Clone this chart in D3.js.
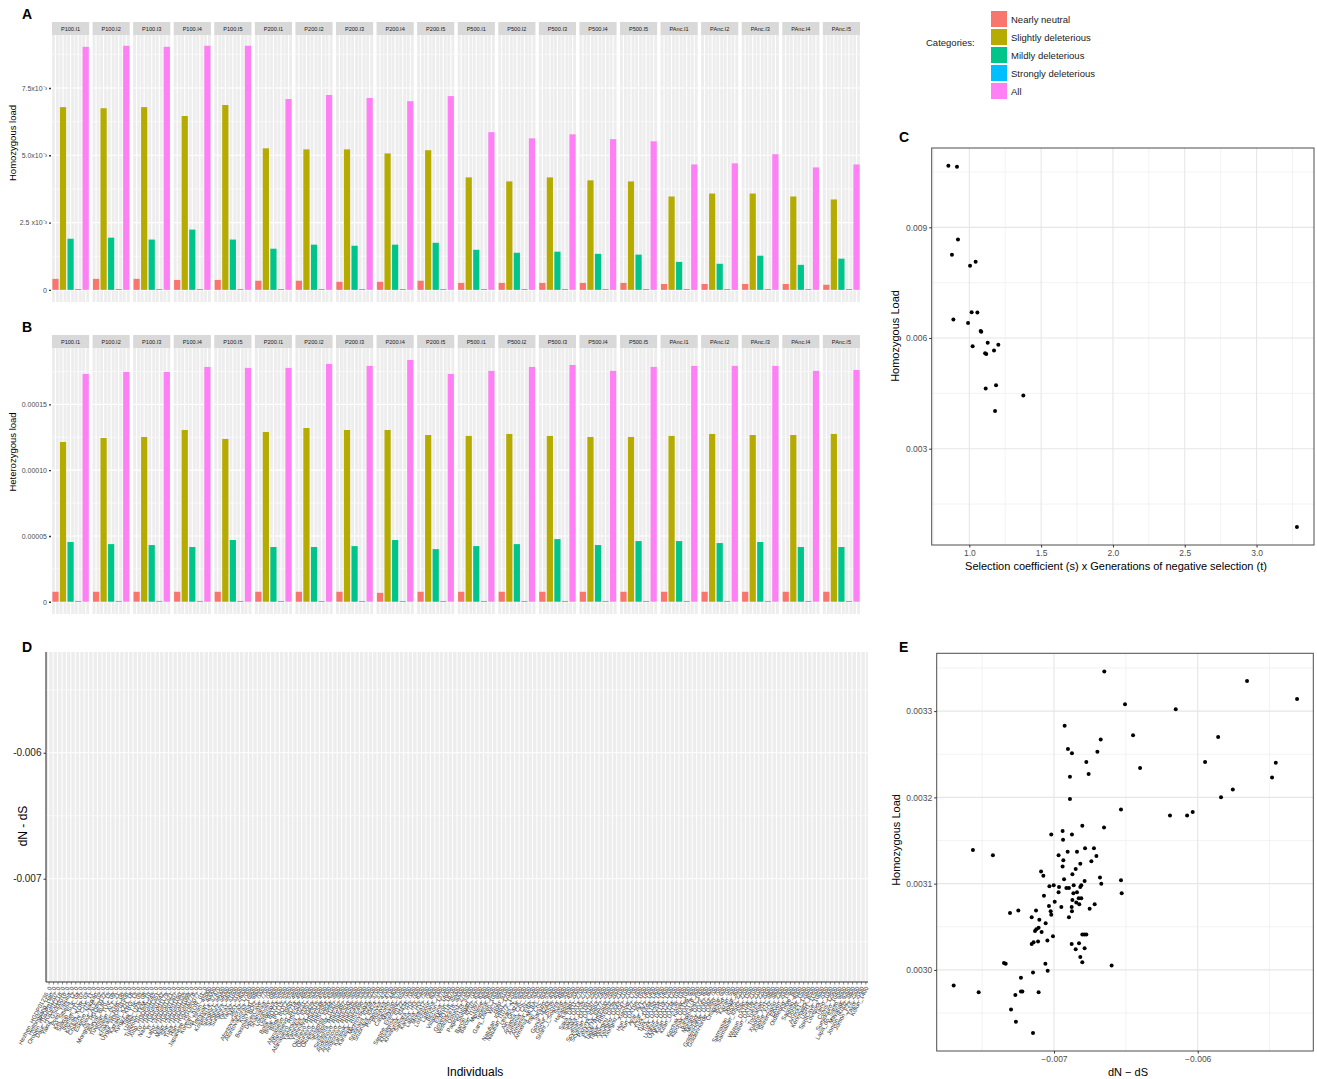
<!DOCTYPE html>
<html>
<head>
<meta charset="utf-8">
<script src="https://cdn.jsdelivr.net/npm/d3@7"></script>
<style>
  body { margin: 0; background: #fff; }
  text { font-family: "Liberation Sans", Arial, Helvetica, sans-serif; }
</style>
</head>
<body>
<div id="chart"></div>
<script>
// ---- data ----
const facets = ["P100.I1","P100.I2","P100.I3","P100.I4","P100.I5",
  "P200.I1","P200.I2","P200.I3","P200.I4","P200.I5",
  "P500.I1","P500.I2","P500.I3","P500.I4","P500.I5",
  "PAnc.I1","PAnc.I2","PAnc.I3","PAnc.I4","PAnc.I5"];
const categories = ["Nearly neutral","Slightly deleterious","Mildly deleterious","Strongly deleterious","All"];
const catColors = ["#F8766D","#B6AB00","#00C58A","#00BFFF","#FF7FF5"];

// panel A, homozygous load
const homNearlyNeutral = [0.00041,0.00041,0.00041,0.00037,0.00037,0.00034,0.00034,0.00030,0.00030,0.00034,
  0.00026,0.00026,0.00026,0.00026,0.00026,0.00022,0.00022,0.00022,0.00022,0.00019];
const homSlightly = [0.00679,0.00675,0.00679,0.00646,0.00687,0.00526,0.00522,0.00522,0.00507,0.00519,
  0.00418,0.00403,0.00418,0.00407,0.00403,0.00347,0.00358,0.00358,0.00347,0.00336];
const homMildly = [0.00190,0.00194,0.00187,0.00224,0.00187,0.00153,0.00168,0.00164,0.00168,0.00175,
  0.00149,0.00138,0.00142,0.00134,0.00131,0.00104,0.00097,0.00127,0.00093,0.00116];
const homStrongly = [0.00003,0.00003,0.00003,0.00003,0.00003,0.00003,0.00003,0.00003,0.00003,0.00003,
  0.00003,0.00003,0.00003,0.00003,0.00003,0.00003,0.00003,0.00003,0.00003,0.00003];
const homAll = [0.00903,0.00907,0.00903,0.00907,0.00907,0.00709,0.00724,0.00713,0.00701,0.00720,
  0.00586,0.00563,0.00578,0.00560,0.00552,0.00466,0.00470,0.00504,0.00455,0.00466];
const homTicks = [0, 0.0025, 0.005, 0.0075];
const homTickLabels = ["0", "2.5 x10\u207B\u00B3", "5.0x10\u207B\u00B3", "7.5x10\u207B\u00B3"];

// panel B, heterozygous load
const hetNearlyNeutral = [0.0000076,0.0000076,0.0000076,0.0000076,0.0000076,0.0000076,0.0000076,0.0000076,0.0000068,0.0000076,
  0.0000076,0.0000076,0.0000076,0.0000076,0.0000076,0.0000076,0.0000076,0.0000076,0.0000076,0.0000076];
const hetSlightly = [0.0001214,0.0001244,0.0001252,0.0001305,0.0001237,0.0001290,0.0001320,0.0001305,0.0001305,0.0001267,
  0.0001260,0.0001275,0.0001260,0.0001252,0.0001252,0.0001260,0.0001275,0.0001267,0.0001267,0.0001275];
const hetMildly = [0.0000454,0.0000438,0.0000431,0.0000416,0.0000469,0.0000416,0.0000416,0.0000423,0.0000469,0.0000400,
  0.0000423,0.0000438,0.0000476,0.0000431,0.0000461,0.0000461,0.0000446,0.0000454,0.0000416,0.0000416];
const hetStrongly = [0.0000006,0.0000006,0.0000006,0.0000006,0.0000006,0.0000006,0.0000006,0.0000006,0.0000006,0.0000006,
  0.0000006,0.0000006,0.0000006,0.0000006,0.0000006,0.0000006,0.0000006,0.0000006,0.0000006,0.0000006];
const hetAll = [0.0001731,0.0001746,0.0001746,0.0001784,0.0001777,0.0001777,0.0001807,0.0001792,0.0001837,0.0001731,
  0.0001754,0.0001784,0.0001799,0.0001754,0.0001784,0.0001792,0.0001792,0.0001792,0.0001754,0.0001761];
const hetTicks = [0, 0.00005, 0.0001, 0.00015];
const hetTickLabels = ["0", "0.00005", "0.00010", "0.00015"];

// panel C, s*t vs homozygous load
const selPoints = [[0.854,0.01067],[0.914,0.01064],[0.921,0.00867],[0.879,0.00826],[1.005,0.00796],
  [1.044,0.00807],[0.889,0.00650],[1.016,0.00670],[1.056,0.00669],[0.991,0.00641],[1.079,0.00619],
  [1.083,0.00617],[1.023,0.00578],[1.128,0.00587],[1.202,0.00582],[1.110,0.00559],[1.118,0.00557],
  [1.172,0.00566],[1.114,0.00463],[1.186,0.00472],[1.376,0.00444],[1.179,0.00402],[3.281,0.00088]];
const selXTicks = [1.0, 1.5, 2.0, 2.5, 3.0];
const selYTicks = [0.003, 0.006, 0.009];

// panel D, individuals (x axis labels)
const individuals = ["Hezhen_HGDP01236_0","Heilongjiang_Han_0","Oroqen_HGDP01207_0","Daur_HGDP01216_0",
  "Yakut_GS000016_0","Even_Yakutia_0","Ket_Siberia_12_0","Selkup_SLK_04_0","Itelmen_ITL_07_0","Koryak_KOR_03_0",
  "Chukchi_CHK_11_0","Eskimo_Naukan_0","Aleut_ALE_02_0","Mongola_HGDP0122_0","Buryat_BUR_15_0","Tuvinian_TUV_09_0",
  "Altaian_ALT_21_0","Khakass_KHK_06_0","Uygur_HGDP01306_0","Kazakh_KZH_18_0","Kyrgyz_KRG_13_0","Tajik_TJK_05_0",
  "Uzbek_UZB_08_0","Turkmen_TKM_10_0","Xibo_HGDP01245_0","Tu_HGDP01351_0","Naxi_HGDP01342_0","Yi_HGDP01179_0",
  "Lahu_HGDP01321_0","Dai_HGDP01307_0","Miao_HGDP01190_0","She_HGDP01335_0","Tujia_HGDP01099_0","Han_HGDP00778_0",
  "Japanese_HGDP0077_0","Korean_KOR_01_0",
  "Ust_Ishim_45000","Tianyuan_40000","Kostenki14_37470","Sunghir1_34000","Sunghir2_34000","Sunghir3_34000",
  "Yana1_31600","Yana2_31600","MA1_24000","AfontovaGora2_17000","AfontovaGora3_16900","Kolyma1_9800",
  "Boisman_BOI2_7000","DevilsCave_7700","Shamanka_7000","Lokomotiv_6800","UstBelaya_5500","Botai_BOT14_5500",
  "Botai_BOT15_5500","Botai_BOT2_5500","Afanasievo_I3950_4900","Afanasievo_I6714_4900","Afanasievo_RISE509_4900",
  "Yamnaya_I0231_5000","Yamnaya_I0357_5000","Yamnaya_I0429_5000","Okunevo_RISE515_4500","Okunevo_RISE548_4500",
  "Okunevo_RISE664_4500","Sintashta_I0944_3900","Sintashta_I1007_3900","Sintashta_RISE392_3900",
  "Andronovo_RISE497_3600","Andronovo_RISE500_3600","Andronovo_RISE505_3600","Karasuk_RISE495_3300",
  "Karasuk_RISE496_3300","Mezhovskaya_3200","Srubnaya_I0234_3700","Srubnaya_I0424_3700","Potapovka_4200",
  "Poltavka_4700","Catacomb_4400","Maykop_5700","Steppe_Eneolithic_6500","Khvalynsk_I0122_7000",
  "Khvalynsk_I0434_7000","Samara_HG_7600","Karelia_HG_8300","Latvia_HG_7500","Motala12_7900","Loschbour_8000",
  "LaBrana_7000","Bichon_13700","Villabruna_14000","ElMiron_18700","GoyetQ116_35000","Vestonice16_30000",
  "Ostuni1_27000","Paglicci133_33000","Stuttgart_7000","Barcin_I0707_8300","Barcin_I1097_8300","Mentese_8000",
  "Tepecik_8500","Ganj_Dareh_10000","WC1_9900","Hotu_9100","Natufian_I0861_12000","Natufian_I1072_12000",
  "Levant_N_9500","Ain_Ghazal_9000","Anatolia_ChL_6000","Armenia_ChL_6200","Armenia_EBA_5000","Armenia_MLBA_3200",
  "Iran_ChL_6000","Sarazm_5300","Gonur_I4243_4000","Gonur_I5535_4000","Shahr_i_Sokhta_4800","Swat_3000",
  "Harappa_4500","Kangju_2000","Saka_DA11_2700","Saka_DA14_2700","Saka_DA35_2700","Scythian_DA191_2500",
  "Scythian_DA197_2500","Pazyryk_I0563_2400","Pazyryk_I0577_2400","Tagar_RISE600_2600","Tagar_RISE602_2600",
  "Xiongnu_DA39_2100","Xiongnu_DA43_2100","Xiongnu_DA47_2100","Xianbei_1700","Hun_DA127_1600","Hun_DA195_1600",
  "Avar_AV1_1400","Avar_AV2_1400","Turk_DA94_1400","Turk_DA150_1400","Turk_DA204_1400","Uyghur_DA119_1200",
  "Uyghur_DA121_1200","Kitan_DA134_1000","Kitan_DA136_1000","Kimak_1000","Kipchak_DA159_900","Kipchak_DA178_900",
  "Karakhanid_1000","Mongol_DA72_800","Mongol_DA87_800","GoldenHorde_DA82_700","GoldenHorde_DA90_700",
  "Chagatai_600","Jochid_700","Kazan_500","Nogai_400","Sarmatian_I0575_2200","Sarmatian_I0582_2200","Alan_1500",
  "Wusun_DA104_2100","Wusun_DA109_2100","Yuezhi_2200","Tocharian_2000","Xiaohe_XH1_3800","Xiaohe_XH2_3800",
  "Shirenzigou_2300","Ekven_2000","OldBering_1500","Thule_800","Saqqaq_4000","Dorset_1500","Anzick1_12600",
  "Kennewick_8500","USR1_11500","SpiritCave_10600","Lovelock_2000","Taino_1000","Clovis_12900","Sumidouro_10400",
  "Lapa_do_Santo_9600","Mayahak_9300","Jomon_IK002_3800","Jomon_F23_2500","Yayoi_2000","Kofun_1400"];
const dndsTicks = [-0.007, -0.006];
const dndsTickLabels = ["-0.007", "-0.006"];

// panel E, dN - dS vs homozygous load
const dndsPoints = [[-0.00665,0.003346],[-0.005657,0.003335],[-0.005309,0.003314],[-0.006506,0.003308],
  [-0.006153,0.003302],[-0.006926,0.003283],[-0.00645,0.003272],[-0.005858,0.00327],[-0.006675,0.003267],
  [-0.006903,0.003256],[-0.006698,0.003253],[-0.006875,0.003251],[-0.006775,0.003241],[-0.005949,0.003241],
  [-0.005457,0.00324],[-0.006401,0.003234],[-0.006759,0.003227],[-0.006889,0.003224],[-0.005483,0.003223],
  [-0.005756,0.003209],[-0.006889,0.003198],[-0.005838,0.0032],[-0.006534,0.003186],[-0.006193,0.003179],
  [-0.006074,0.003179],[-0.006035,0.003183],[-0.006803,0.003167],[-0.006652,0.003165],[-0.007019,0.003157],
  [-0.00694,0.003161],[-0.006875,0.003157],[-0.006937,0.003151],[-0.007564,0.003139],[-0.006784,0.003141],
  [-0.006722,0.003141],[-0.006905,0.003137],[-0.00684,0.003137],[-0.007425,0.003133],[-0.006968,0.003133],
  [-0.006705,0.003132],[-0.006935,0.003127],[-0.00674,0.003126],[-0.006817,0.003123],[-0.00694,0.00312],
  [-0.006849,0.003117],[-0.00709,0.003114],[-0.006872,0.003111],[-0.007074,0.003109],[-0.00693,0.003105],
  [-0.00668,0.003107],[-0.006787,0.003103],[-0.006534,0.003104],[-0.006671,0.0031],[-0.007032,0.003097],
  [-0.007002,0.003098],[-0.006863,0.003098],[-0.00681,0.003098],[-0.006965,0.003096],[-0.006914,0.003095],
  [-0.006896,0.003095],[-0.006817,0.003096],[-0.00684,0.00309],[-0.006968,0.00309],[-0.006865,0.003089],
  [-0.006529,0.003089],[-0.00707,0.003086],[-0.006872,0.003081],[-0.006828,0.003083],[-0.00681,0.003083],
  [-0.006995,0.003079],[-0.006845,0.003078],[-0.006824,0.003076],[-0.006717,0.003076],[-0.007035,0.003074],
  [-0.006949,0.003073],[-0.006877,0.003073],[-0.006752,0.003071],[-0.007306,0.003066],[-0.007248,0.003069],
  [-0.007125,0.003069],[-0.007023,0.003068],[-0.006875,0.003068],[-0.007155,0.003061],[-0.007019,0.003064],
  [-0.006896,0.003061],[-0.007102,0.003058],[-0.007058,0.003054],[-0.007107,0.003049],[-0.007123,0.003047],
  [-0.007132,0.003045],[-0.007086,0.003044],[-0.006803,0.003041],[-0.006789,0.003041],[-0.006775,0.003041],
  [-0.007007,0.003039],[-0.007046,0.003034],[-0.007111,0.003033],[-0.007142,0.003032],[-0.007155,0.00303],
  [-0.006877,0.00303],[-0.006826,0.003031],[-0.006849,0.003024],[-0.006787,0.003025],[-0.006817,0.003015],
  [-0.006803,0.003009],[-0.007348,0.003008],[-0.007336,0.003007],[-0.00706,0.003007],[-0.006599,0.003005],
  [-0.007044,0.002999],[-0.007146,0.002997],[-0.00723,0.002991],[-0.007698,0.002982],[-0.007524,0.002974],
  [-0.00723,0.002975],[-0.00722,0.002975],[-0.007107,0.002974],[-0.007269,0.002971],[-0.007299,0.002954],
  [-0.007265,0.00294],[-0.007146,0.002927]];
const loadXTicks = [-0.007, -0.006];
const loadYTicks = [0.0030, 0.0031, 0.0032, 0.0033];

// ---- drawing ----
const width = 1317, height = 1079;
const svg = d3.select("#chart").append("svg")
  .attr("width", width).attr("height", height)
  .style("background", "#fff");

const BG = "#EDEDED";

function panelLabel(t, x, y) {
  svg.append("text").attr("x", x).attr("y", y)
    .attr("font-size", 14).attr("font-weight", "bold").attr("fill", "#000").text(t);
}

// faceted bar panel (A and B)
function barPanel(cfg) {
  const series = cfg.series;
  const rows = [];
  facets.forEach(function(f, i) {
    categories.forEach(function(c, j) {
      rows.push({ facet: f, cat: c, value: series[j][i], color: catColors[j] });
    });
  });

  const fx = d3.scaleBand().domain(facets).range([52, 860]).paddingInner(0.084);
  const cx = d3.scaleBand().domain(categories).range([0, fx.bandwidth()])
    .paddingInner(0.18).paddingOuter(0.05);
  const y = d3.scaleLinear().domain(cfg.yDomain).range([cfg.bottom, cfg.top]);

  const minor = [];
  for (let k = 0; k < cfg.ticks.length; k++) {
    const step = cfg.ticks[1] - cfg.ticks[0];
    const m = cfg.ticks[k] + step / 2;
    if (m < cfg.yDomain[1]) minor.push(m);
  }

  const g = svg.append("g");
  const fg = g.selectAll(".facet").data(facets).enter().append("g")
    .attr("transform", function(d) { return "translate(" + fx(d) + ",0)"; });

  fg.append("rect").attr("x", 0).attr("y", cfg.stripTop)
    .attr("width", fx.bandwidth()).attr("height", cfg.top - cfg.stripTop)
    .attr("fill", "#D9D9D9");
  fg.append("text").attr("x", fx.bandwidth() / 2).attr("y", (cfg.stripTop + cfg.top) / 2 + 2)
    .attr("text-anchor", "middle").attr("font-size", 5.6).attr("fill", "#1A1A1A")
    .text(function(d) { return d; });

  fg.append("rect").attr("x", 0).attr("y", cfg.top)
    .attr("width", fx.bandwidth()).attr("height", cfg.bottom - cfg.top)
    .attr("fill", BG);

  // grid
  fg.selectAll(".hmin").data(minor).enter().append("line")
    .attr("x1", 0).attr("x2", fx.bandwidth())
    .attr("y1", function(d) { return y(d); }).attr("y2", function(d) { return y(d); })
    .attr("stroke", "#fff").attr("stroke-width", 0.6);
  fg.selectAll(".hmaj").data(cfg.ticks).enter().append("line")
    .attr("x1", 0).attr("x2", fx.bandwidth())
    .attr("y1", function(d) { return y(d); }).attr("y2", function(d) { return y(d); })
    .attr("stroke", "#fff").attr("stroke-width", 1.1);
  const centers = categories.map(function(c) { return cx(c) + cx.bandwidth() / 2; });
  const mids = centers.slice(1).map(function(c, i) { return (c + centers[i]) / 2; });
  fg.selectAll(".vmin").data(mids).enter().append("line")
    .attr("x1", function(d) { return d; }).attr("x2", function(d) { return d; })
    .attr("y1", cfg.top).attr("y2", cfg.bottom)
    .attr("stroke", "#fff").attr("stroke-width", 0.6);
  fg.selectAll(".vmaj").data(centers).enter().append("line")
    .attr("x1", function(d) { return d; }).attr("x2", function(d) { return d; })
    .attr("y1", cfg.top).attr("y2", cfg.bottom)
    .attr("stroke", "#fff").attr("stroke-width", 1.1);

  // bars
  g.selectAll(".bar").data(rows).enter().append("rect")
    .attr("x", function(d) { return fx(d.facet) + cx(d.cat); })
    .attr("width", cx.bandwidth())
    .attr("y", function(d) { return y(d.value); })
    .attr("height", function(d) { return y(0) - y(d.value); })
    .attr("fill", function(d) { return d.color; });

  // y axis
  const ax = g.append("g").attr("transform", "translate(51,0)")
    .call(d3.axisLeft(y).tickValues(cfg.ticks).tickSize(2)
      .tickPadding(2).tickFormat(function(d, i) { return cfg.tickLabels[i]; }));
  ax.select(".domain").remove();
  ax.selectAll("line").attr("stroke", "#333").attr("stroke-width", 1.4);
  ax.selectAll("text").attr("font-size", 7).attr("fill", "#4D4D4D")
    .style("font-family", '"Liberation Sans", Arial, sans-serif');

  svg.append("text")
    .attr("transform", "translate(16," + cfg.titleY + ") rotate(-90)")
    .attr("text-anchor", "middle").attr("font-size", 9.5).attr("fill", "#000")
    .text(cfg.title);
}

barPanel({
  series: [homNearlyNeutral, homSlightly, homMildly, homStrongly, homAll],
  stripTop: 22, top: 35, bottom: 302,
  yDomain: [-0.00045, 0.00947],
  ticks: homTicks, tickLabels: homTickLabels,
  title: "Homozygous load", titleY: 143
});
barPanel({
  series: [hetNearlyNeutral, hetSlightly, hetMildly, hetStrongly, hetAll],
  stripTop: 335, top: 348, bottom: 614,
  yDomain: [-0.0000093, 0.0001928],
  ticks: hetTicks, tickLabels: hetTickLabels,
  title: "Heterozygous load", titleY: 452
});
panelLabel("A", 22, 19);
panelLabel("B", 22, 332);

// legend
const legend = svg.append("g");
legend.append("text").attr("x", 926).attr("y", 46).attr("font-size", 9.5).attr("fill", "#1A1A1A")
  .text("Categories:");
legend.selectAll(".key").data(categories).enter().append("rect")
  .attr("x", 991).attr("y", function(d, i) { return 11 + 18 * i; })
  .attr("width", 16).attr("height", 16)
  .attr("fill", function(d, i) { return catColors[i]; });
legend.selectAll(".lab").data(categories).enter().append("text")
  .attr("x", 1011).attr("y", function(d, i) { return 22.5 + 18 * i; })
  .attr("font-size", 9.5).attr("fill", "#1A1A1A")
  .text(function(d) { return d; });

// scatter panel (C and E)
function scatter(cfg) {
  const x = d3.scaleLinear().domain(cfg.xDomain).range([cfg.left, cfg.right]);
  const y = d3.scaleLinear().domain(cfg.yDomain).range([cfg.bottom, cfg.top]);
  const g = svg.append("g");

  g.selectAll(".xmin").data(cfg.xMinor).enter().append("line")
    .attr("x1", function(d) { return x(d); }).attr("x2", function(d) { return x(d); })
    .attr("y1", cfg.top).attr("y2", cfg.bottom).attr("stroke", "#EBEBEB").attr("stroke-width", 0.6);
  g.selectAll(".ymin").data(cfg.yMinor).enter().append("line")
    .attr("y1", function(d) { return y(d); }).attr("y2", function(d) { return y(d); })
    .attr("x1", cfg.left).attr("x2", cfg.right).attr("stroke", "#EBEBEB").attr("stroke-width", 0.6);
  g.selectAll(".xmaj").data(cfg.xTicks).enter().append("line")
    .attr("x1", function(d) { return x(d); }).attr("x2", function(d) { return x(d); })
    .attr("y1", cfg.top).attr("y2", cfg.bottom).attr("stroke", "#E6E6E6").attr("stroke-width", 1.1);
  g.selectAll(".ymaj").data(cfg.yTicks).enter().append("line")
    .attr("y1", function(d) { return y(d); }).attr("y2", function(d) { return y(d); })
    .attr("x1", cfg.left).attr("x2", cfg.right).attr("stroke", "#E6E6E6").attr("stroke-width", 1.1);

  g.selectAll(".pt").data(cfg.points).enter().append("circle")
    .attr("cx", function(d) { return x(d[0]); })
    .attr("cy", function(d) { return y(d[1]); })
    .attr("r", 2).attr("fill", "#000");

  g.append("rect").attr("x", cfg.left).attr("y", cfg.top)
    .attr("width", cfg.right - cfg.left).attr("height", cfg.bottom - cfg.top)
    .attr("fill", "none").attr("stroke", "#4D4D4D").attr("stroke-width", 1);

  const xa = g.append("g").attr("transform", "translate(0," + cfg.bottom + ")")
    .call(d3.axisBottom(x).tickValues(cfg.xTicks).tickSize(2.5).tickPadding(2).tickFormat(cfg.xFmt));
  const ya = g.append("g").attr("transform", "translate(" + cfg.left + ",0)")
    .call(d3.axisLeft(y).tickValues(cfg.yTicks).tickSize(2.5).tickPadding(2).tickFormat(cfg.yFmt));
  [xa, ya].forEach(function(a) {
    a.select(".domain").remove();
    a.selectAll("line").attr("stroke", "#333");
    a.selectAll("text").attr("font-size", 8.5).attr("fill", "#4D4D4D")
      .style("font-family", '"Liberation Sans", Arial, sans-serif');
  });

  svg.append("text").attr("x", cfg.xTitleX).attr("y", cfg.xTitleY)
    .attr("text-anchor", "middle").attr("font-size", 11).attr("fill", "#000").text(cfg.xTitle);
  svg.append("text")
    .attr("transform", "translate(" + cfg.yTitleX + "," + cfg.yTitleY + ") rotate(-90)")
    .attr("text-anchor", "middle").attr("font-size", 11).attr("fill", "#000").text(cfg.yTitle);
}

scatter({
  left: 931.7, right: 1314, top: 148, bottom: 545,
  xDomain: [0.738, 3.40], yDomain: [0.00039, 0.01115],
  xTicks: selXTicks, xMinor: [0.75, 1.25, 1.75, 2.25, 2.75, 3.25],
  yTicks: selYTicks, yMinor: [0.0015, 0.0045, 0.0075, 0.0105],
  xFmt: d3.format(".1f"), yFmt: d3.format(".3f"),
  points: selPoints,
  xTitle: "Selection coefficient (s) x Generations of negative selection (t)",
  xTitleX: 1116, xTitleY: 570,
  yTitle: "Homozygous Load", yTitleX: 899, yTitleY: 336
});
panelLabel("C", 899, 142);

scatter({
  left: 936.7, right: 1313.3, top: 653.3, bottom: 1051,
  xDomain: [-0.007816, -0.005196], yDomain: [0.002906, 0.003367],
  xTicks: loadXTicks, xMinor: [-0.0075, -0.0065, -0.0055],
  yTicks: loadYTicks, yMinor: [0.00295, 0.00305, 0.00315, 0.00325, 0.00335],
  xFmt: function(d) { return "\u2212" + d3.format(".3f")(-d); }, yFmt: d3.format(".4f"),
  points: dndsPoints,
  xTitle: "dN \u2212 dS", xTitleX: 1128, xTitleY: 1076,
  yTitle: "Homozygous Load", yTitleX: 900, yTitleY: 840
});
panelLabel("E", 899, 652);

// panel D: dN - dS per individual
(function() {
  const left = 46, right = 868, top = 652, bottom = 982;
  const x = d3.scalePoint().domain(individuals).range([left, right]).padding(0.6);
  const y = d3.scaleLinear().domain([-0.00782, -0.0052]).range([bottom, top]);
  const g = svg.append("g");
  g.append("rect").attr("x", left).attr("y", top).attr("width", right - left).attr("height", bottom - top)
    .attr("fill", BG);
  g.selectAll(".ymin").data([-0.0075, -0.0065, -0.0055]).enter().append("line")
    .attr("x1", left).attr("x2", right)
    .attr("y1", function(d) { return y(d); }).attr("y2", function(d) { return y(d); })
    .attr("stroke", "#fff").attr("stroke-width", 0.6);
  g.selectAll(".ymaj").data(dndsTicks).enter().append("line")
    .attr("x1", left).attr("x2", right)
    .attr("y1", function(d) { return y(d); }).attr("y2", function(d) { return y(d); })
    .attr("stroke", "#fff").attr("stroke-width", 1.1);
  g.selectAll(".vmaj").data(individuals).enter().append("line")
    .attr("x1", function(d) { return x(d); }).attr("x2", function(d) { return x(d); })
    .attr("y1", top).attr("y2", bottom)
    .attr("stroke", "#fff").attr("stroke-width", 1);

  g.append("line").attr("x1", left).attr("x2", left).attr("y1", top).attr("y2", bottom)
    .attr("stroke", "#333").attr("stroke-width", 1.1);
  g.append("line").attr("x1", left).attr("x2", right).attr("y1", bottom).attr("y2", bottom)
    .attr("stroke", "#333").attr("stroke-width", 1.1);

  const ya = g.append("g").attr("transform", "translate(" + left + ",0)")
    .call(d3.axisLeft(y).tickValues(dndsTicks).tickSize(2.5).tickPadding(2)
      .tickFormat(function(d, i) { return dndsTickLabels[i]; }));
  ya.select(".domain").remove();
  ya.selectAll("line").attr("stroke", "#333");
  ya.selectAll("text").attr("font-size", 10).attr("fill", "#222")
    .style("font-family", '"Liberation Sans", Arial, sans-serif');

  const xa = g.append("g").attr("transform", "translate(0," + bottom + ")")
    .call(d3.axisBottom(x).tickSize(2.5));
  xa.select(".domain").remove();
  xa.selectAll("line").attr("stroke", "#333").attr("stroke-width", 0.6);
  xa.selectAll("text")
    .attr("x", 0).attr("y", 0).attr("dy", "0.35em")
    .attr("transform", "translate(1,5) rotate(-62)")
    .style("text-anchor", "end")
    .attr("font-size", 6).attr("fill", "#333")
    .style("font-family", '"Liberation Sans", Arial, sans-serif');

  svg.append("text").attr("x", 475).attr("y", 1076).attr("text-anchor", "middle")
    .attr("font-size", 12).attr("fill", "#000").text("Individuals");
  svg.append("text").attr("transform", "translate(27,826) rotate(-90)")
    .attr("text-anchor", "middle").attr("font-size", 12).attr("fill", "#000").text("dN - dS");
})();
panelLabel("D", 22, 652);
</script>
</body>
</html>
